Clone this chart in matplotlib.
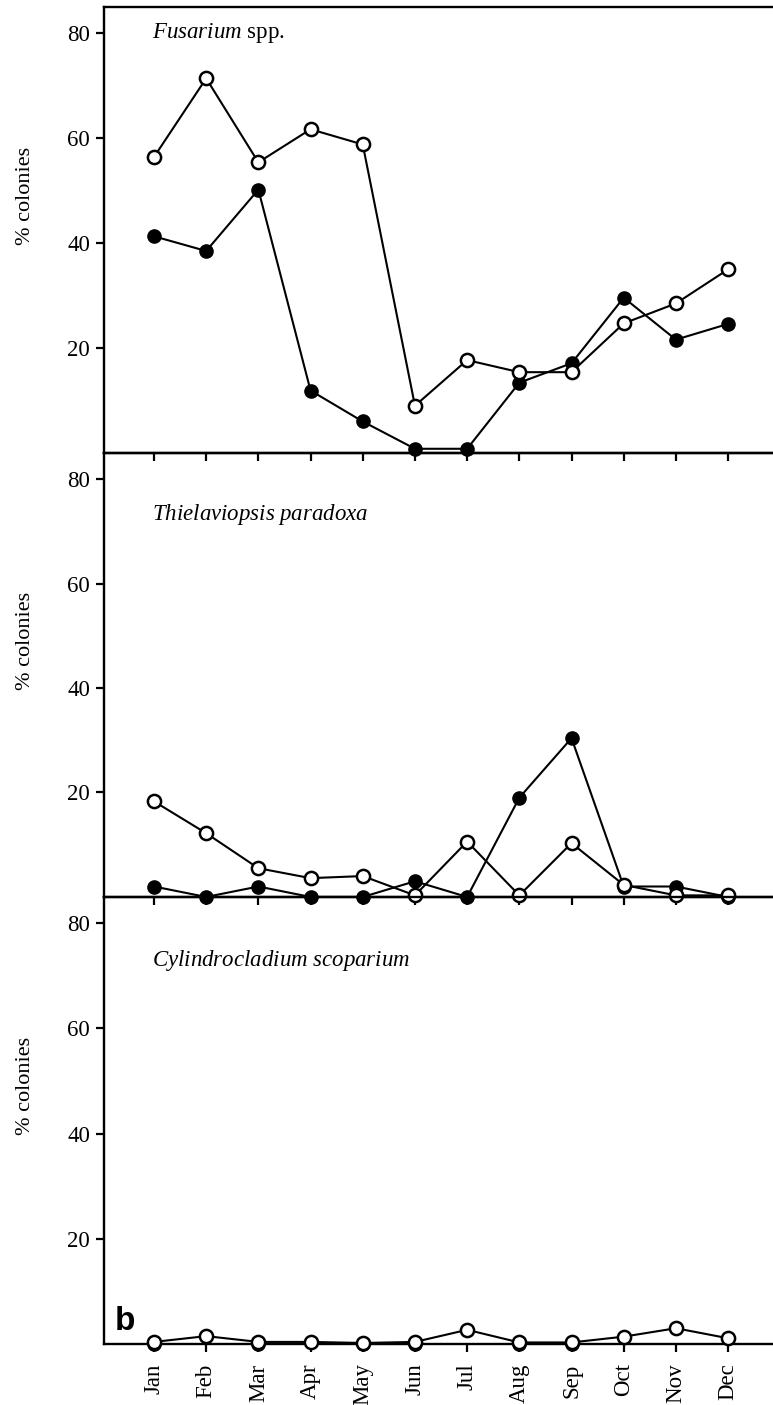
import numpy as np
import matplotlib.pyplot as plt

# Meses do ano (eixo x)
meses = ['Jan', 'Feb', 'Mar', 'Apr', 'May', 'Jun', 'Jul', 'Aug', 'Sep', 'Oct', 'Nov', 'Dec']

# Fusarium spp. - simbolos abertos e cheios (% colonias)
fusarium_aberto = [56.4, 71.4, 55.4, 61.7, 58.8, 9.0, 17.7, 15.4, 15.4, 24.7, 28.5, 35.0]
fusarium_cheio = [41.3, 38.5, 50.2, 11.9, 6.0, 0.8, 0.8, 13.4, 17.1, 29.6, 21.6, 24.6]

# Thielaviopsis paradoxa
thiel_aberto = [18.3, 12.2, 5.5, 3.6, 4.0, 0.3, 10.6, 0.3, 10.3, 2.3, 0.3, 0.3]
thiel_cheio = [2.0, 0.0, 2.0, 0.0, 0.0, 3.0, 0.0, 19.0, 30.4, 2.0, 2.0, 0.0]

# Cylindrocladium scoparium
cylin_aberto = [0.4, 1.5, 0.4, 0.4, 0.2, 0.4, 2.7, 0.3, 0.3, 1.4, 3.0, 1.1]
cylin_cheio = [0.0, np.nan, 0.0, np.nan, 0.0, 0.0, np.nan, 0.0, 0.0, np.nan, np.nan, np.nan]

titulos = [r'$\it{Fusarium}$ spp.', r'$\it{Thielaviopsis\ paradoxa}$', r'$\it{Cylindrocladium\ scoparium}$']
titulo_y = [80, 73.2, 73.0]
abertos = [fusarium_aberto, thiel_aberto, cylin_aberto]
cheios = [fusarium_cheio, thiel_cheio, cylin_cheio]

plt.rcParams['font.family'] = 'Liberation Serif'
plt.rcParams['mathtext.fontset'] = 'custom'
plt.rcParams['mathtext.it'] = 'Liberation Serif:italic'
plt.rcParams['mathtext.rm'] = 'Liberation Serif'

fig = plt.figure(figsize=(7.73, 14.05), dpi=100)
posicoes = [[0.1345, 0.6776, 0.8655, 0.3174],
            [0.1345, 0.3616, 0.8655, 0.3160],
            [0.1345, 0.0434, 0.8655, 0.3182]]

x = np.arange(1, 13)
for i in range(3):
    ax = fig.add_axes(posicoes[i])
    ax.patch.set_visible(False)  # para os ticks do painel de cima nao sumirem
    ax.plot(x, cheios[i], '-o', color='black', mfc='black', mec='black', ms=9.5, lw=1.5,
            clip_on=False, zorder=3)
    ax.plot(x, abertos[i], '-o', color='black', mfc='white', mec='black', mew=1.8, ms=9.5,
            lw=1.5, clip_on=False, zorder=4)
    ax.set_xlim(0.042, 12.86)
    ax.set_ylim(0, 85)
    ax.set_yticks([20, 40, 60, 80])
    ax.set_xticks(x)
    ax.spines['right'].set_visible(False)
    for lado in ['left', 'top', 'bottom']:
        ax.spines[lado].set_linewidth(1.7)
    ax.tick_params(axis='y', direction='out', length=6, width=1.6, labelsize=16.5, pad=4)
    ax.tick_params(axis='x', direction='out', length=6, width=1.6, labelsize=16.5, pad=8)
    ax.text(0.97, titulo_y[i], titulos[i], fontsize=16.5, ha='left', va='center')
    ax.text(-0.117, 49 / 85, '% colonies', rotation=90, transform=ax.transAxes,
            ha='center', va='center', fontsize=16)
    if i < 2:
        ax.set_xticklabels([])
    else:
        ax.set_xticklabels(meses, rotation=90)
        ax.text(0.253, 1.3, 'b', fontfamily='Liberation Sans', fontweight='bold',
                fontsize=24, ha='left', va='bottom')

plt.savefig('out.png', dpi=100)
